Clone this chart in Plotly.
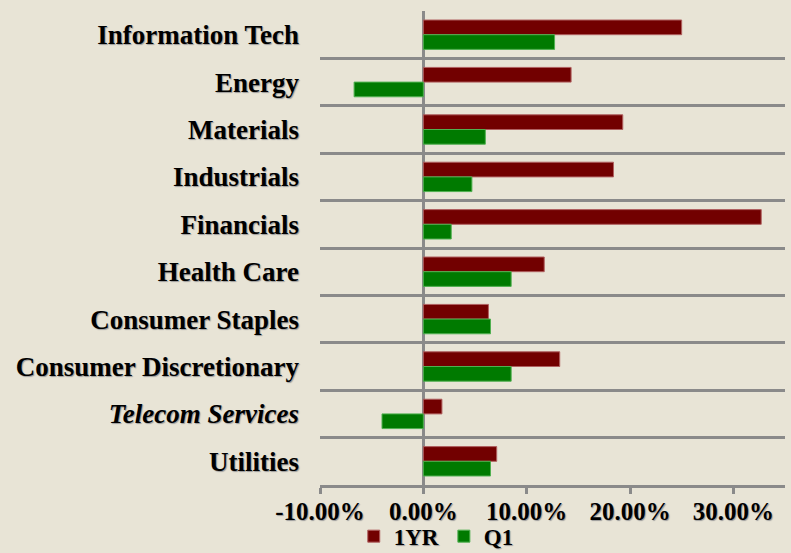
import plotly.graph_objects as go

categories = ["Information Tech", "Energy", "Materials", "Industrials", "Financials",
              "Health Care", "Consumer Staples", "Consumer Discretionary",
              "Telecom Services", "Utilities"]
category_labels = ["Information Tech", "Energy", "Materials", "Industrials", "Financials",
                   "Health Care", "Consumer Staples", "Consumer Discretionary",
                   "<i>Telecom Services</i>", "Utilities"]
one_year = [25.0, 14.3, 19.3, 18.4, 32.7, 11.7, 6.3, 13.2, 1.8, 7.1]
q1 = [12.7, -6.7, 6.0, 4.7, 2.7, 8.5, 6.5, 8.5, -4.0, 6.5]
x_tick_vals = [-10, 0, 10, 20, 30]
x_tick_labels = ["-10.00%", "0.00%", "10.00%", "20.00%", "30.00%"]

BG = "#E8E4D6"
GRID = "#8A8A8A"
FONT = "Liberation Serif"
SHADOW = "1px 1px 1px #9a9a9a"

fig = go.Figure()
fig.add_trace(go.Bar(
    name="1YR", y=categories, x=one_year, orientation="h",
    marker=dict(color="#720000", line=dict(color="#b06060", width=1)),
))
fig.add_trace(go.Bar(
    name="Q1", y=categories, x=q1, orientation="h",
    marker=dict(color="#007A00", line=dict(color="#50b050", width=1)),
))

fig.update_layout(
    width=791, height=553,
    paper_bgcolor=BG, plot_bgcolor=BG,
    margin=dict(l=320, r=6, t=11, b=68, autoexpand=False),
    barmode="group", bargap=0.38, bargroupgap=0,
    font=dict(family=FONT, size=26, color="#000000"),
    showlegend=True,
    legend=dict(orientation="h", x=0.25, xanchor="center", y=-0.108, yanchor="middle",
                font=dict(family=FONT, size=23, weight="bold", shadow=SHADOW),
                bgcolor="rgba(0,0,0,0)", itemwidth=30, tracegroupgap=0,
                borderwidth=0),
)
fig.update_xaxes(
    range=[-10, 35], tickvals=x_tick_vals, ticktext=x_tick_labels,
    showgrid=False, zeroline=True, zerolinecolor=GRID, zerolinewidth=3,
    showline=True, linecolor=GRID, linewidth=3,
    ticks="outside", ticklen=6, tickcolor=GRID, tickwidth=3,
    ticklabelstandoff=-4, automargin=False,
    tickfont=dict(family=FONT, size=25, weight="bold", shadow=SHADOW),
)
fig.update_yaxes(
    type="category", autorange="reversed",
    tickvals=categories, ticktext=category_labels,
    tickson="boundaries", showgrid=True, gridcolor=GRID, gridwidth=3,
    showline=False, ticks="", ticklabelstandoff=20, automargin=False,
    tickfont=dict(family=FONT, size=27, weight="bold", shadow=SHADOW),
)

fig.write_html(
    "out.html",
    config={"displayModeBar": False},
    post_script="document.body.style.margin='0';document.body.style.background='" + BG + "';",
)
